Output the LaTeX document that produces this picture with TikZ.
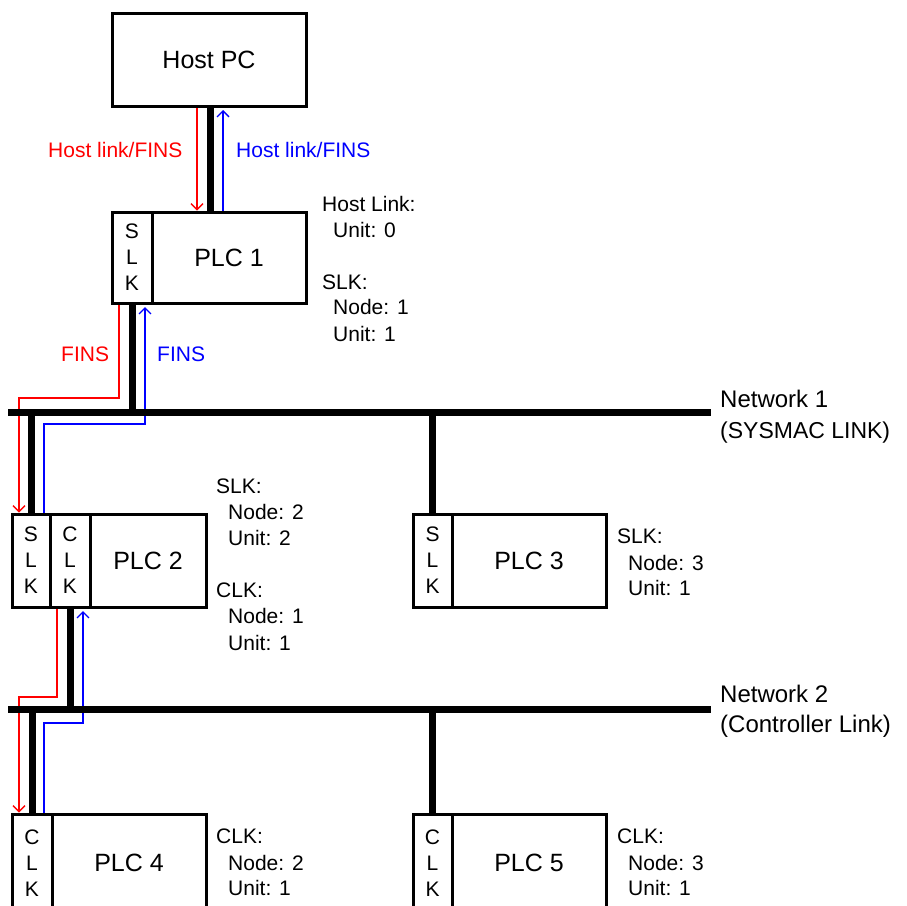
\documentclass[tikz,border=0pt]{standalone}
\usepackage{fontspec}
\setmainfont{Liberation Sans}
\usetikzlibrary{arrows.meta,calc,backgrounds}
\definecolor{pred}{RGB}{255,0,0}
\definecolor{pblue}{RGB}{0,0,255}
\begin{document}
\begin{tikzpicture}[x=1pt,y=-1pt,
  pbox/.style={draw,line width=3pt,rectangle,inner sep=0pt,outer sep=0pt,fill=white},
  bigtxt/.style={font=\fontsize{25}{30}\selectfont},
  lettxt/.style={align=center,font=\fontsize{21}{26}\selectfont},
  lbl/.style={anchor=base west,inner sep=0pt,font=\fontsize{21}{26}\selectfont},
  netlbl/.style={anchor=base west,inner sep=0pt,font=\fontsize{24}{30}\selectfont},
  bus/.style={line width=7pt},
  redline/.style={draw=pred,line width=1.3pt,-{Straight Barb[length=6pt,width=12pt]},shorten >=1.5pt},
  blueline/.style={draw=pblue,line width=1.3pt,-{Straight Barb[length=6pt,width=12pt]},shorten >=4pt}
]
\useasboundingbox (0,0) rectangle (907,905);
\clip (0,0) rectangle (907,905);

% coordinates of the networks and path corners
\coordinate (n1w) at (8,412);
\coordinate (n1e) at (711,412);
\coordinate (n2w) at (8,709);
\coordinate (n2e) at (711,709);
\coordinate (r1) at (19,398);
\coordinate (b1) at (145,424);
\coordinate (r2) at (19,697);
\coordinate (b2) at (83,723);

% boxes
\path
  node[pbox,bigtxt,minimum width=194pt,minimum height=93pt] (host) at (209,59.5) {Host PC}
  node[pbox,lettxt,minimum width=40pt,minimum height=91pt] (plc1slk) at (132,257.5) {S\\L\\K}
  node[pbox,bigtxt,minimum width=154pt,minimum height=91pt] (plc1main) at (229,257.5) {PLC 1}
  node[pbox,lettxt,minimum width=38pt,minimum height=93pt] (plc2slk) at (31,560.5) {S\\L\\K}
  node[pbox,lettxt,minimum width=40pt,minimum height=93pt] (plc2clk) at (70,560.5) {C\\L\\K}
  node[pbox,bigtxt,minimum width=116pt,minimum height=93pt] (plc2main) at (148,560.5) {PLC 2}
  node[pbox,lettxt,minimum width=39pt,minimum height=93pt] (plc3slk) at (432.5,560.5) {S\\L\\K}
  node[pbox,bigtxt,minimum width=154pt,minimum height=93pt] (plc3main) at (529,560.5) {PLC 3}
  node[pbox,lettxt,minimum width=40pt,minimum height=98pt] (plc4clk) at (32,863) {C\\L\\K}
  node[pbox,bigtxt,minimum width=154pt,minimum height=98pt] (plc4main) at (129,863) {PLC 4}
  node[pbox,lettxt,minimum width=39pt,minimum height=98pt] (plc5clk) at (432.5,863) {C\\L\\K}
  node[pbox,bigtxt,minimum width=154pt,minimum height=98pt] (plc5main) at (529,863) {PLC 5};

\begin{scope}[on background layer]
% message arrows (under buses and boxes)
\draw[redline] ([xshift=-12pt]host.south) -- ([xshift=-12pt]host.south |- plc1main.north);
\draw[blueline] ([xshift=14pt]host.south |- plc1main.north) -- ([xshift=14pt]host.south);
\draw[redline] ([xshift=-13pt]plc1slk.south) |- (r1) -- (r1 |- plc2slk.north);
\draw[blueline] ([xshift=13pt]plc2slk.north) |- (b1) -- (b1 |- plc1slk.south);
\draw[redline] ([xshift=-13pt]plc2clk.south) |- (r2) -- (r2 |- plc4clk.north);
\draw[blueline] ([xshift=12pt]plc4clk.north) |- (b2) -- (b2 |- plc2clk.south);

% buses
\draw[bus] (n1w) -- (n1e);
\draw[bus] (n2w) -- (n2e);
\draw[bus] ([xshift=1pt]host.south) -- ([xshift=1pt]host.south |- plc1main.north);
\draw[bus] (plc1slk.south) -- (plc1slk.south |- n1w);
\draw[bus] (plc2slk.north) -- (plc2slk.north |- n1w);
\draw[bus] (plc3slk.north) -- (plc3slk.north |- n1w);
\draw[bus] (plc2clk.south) -- (plc2clk.south |- n2w);
\draw[bus] (plc4clk.north) -- (plc4clk.north |- n2w);
\draw[bus] (plc5clk.north) -- (plc5clk.north |- n2w);
\end{scope}

% arrow labels
\node[lbl,text=pred] (hlr) at (48,157) {Host link/FINS};
\node[lbl,text=pblue] (hlb) at (236,157) {Host link/FINS};
\node[lbl,text=pred] (fr) at (61,361) {FINS};
\node[lbl,text=pblue] (fb) at (157,361) {FINS};

% PLC 1 labels
\node[lbl] (p1a) at (322,211) {Host Link:};
\node[lbl] (p1b) at (333,237) {Unit: 0};
\node[lbl] (p1c) at (322,289) {SLK:};
\node[lbl] (p1d) at (333,314) {Node: 1};
\node[lbl] (p1e) at (333,341) {Unit: 1};
% PLC 2 labels
\node[lbl] (p2a) at (216,493) {SLK:};
\node[lbl] (p2b) at (228,519) {Node: 2};
\node[lbl] (p2c) at (228,545) {Unit: 2};
\node[lbl] (p2d) at (216,597) {CLK:};
\node[lbl] (p2e) at (228,623) {Node: 1};
\node[lbl] (p2f) at (228,650) {Unit: 1};
% PLC 3 labels
\node[lbl] (p3a) at (617,543) {SLK:};
\node[lbl] (p3b) at (628,570) {Node: 3};
\node[lbl] (p3c) at (628,595) {Unit: 1};
% PLC 4 labels
\node[lbl] (p4a) at (216,843) {CLK:};
\node[lbl] (p4b) at (228,870) {Node: 2};
\node[lbl] (p4c) at (228,895) {Unit: 1};
% PLC 5 labels
\node[lbl] (p5a) at (617,843) {CLK:};
\node[lbl] (p5b) at (628,870) {Node: 3};
\node[lbl] (p5c) at (628,895) {Unit: 1};

% network labels
\node[netlbl] (net1a) at (720,407) {Network 1};
\node[netlbl,font=\fontsize{23}{28}\selectfont] (net1b) at (720,438) {(SYSMAC LINK)};
\node[netlbl] (net2a) at (720,702) {Network 2};
\node[netlbl] (net2b) at (720,732) {(Controller Link)};
\end{tikzpicture}
\end{document}
